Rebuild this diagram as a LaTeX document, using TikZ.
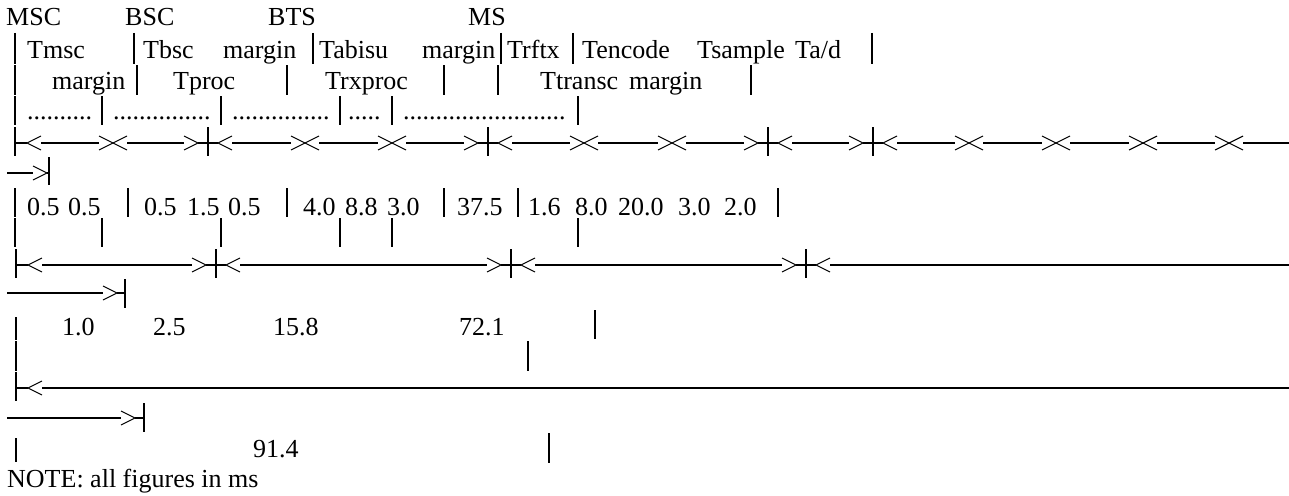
\documentclass[tikz,border=0pt]{standalone}
\usepackage{fontspec}
\setmainfont{Liberation Serif}
\usetikzlibrary{positioning}

\begin{document}
\begin{tikzpicture}[
    x=1pt, y=-1pt,
    lbl/.style={anchor=base west, inner sep=0pt, font=\fontsize{26}{30}\selectfont},
    bar/.style={line width=2.2pt},
    rule/.style={line width=2pt},
    chev/.style={line width=1.1pt},
    junction/.pic={
        \draw[chev] (-14,-7) -- (0,0) -- (-14,7);
        \draw[chev] (14,-7) -- (0,0) -- (14,7);},
    crossing/.pic={
        \draw[chev] (-24,-7) -- (-10,0) -- (-24,7);
        \draw[chev] (24,-7) -- (10,0) -- (24,7);
        \draw[rule] (-10,0) -- (10,0);
        \draw[bar] (0,-16) -- (0,13);},
    startcap/.pic={
        \draw[bar] (0,-16) -- (0,13);
        \draw[rule] (0,0) -- (12,0);
        \draw[chev] (26,-7) -- (12,0) -- (26,7);}
]
\useasboundingbox (0,0) rectangle (1289,495);

% Network elements
\node[lbl] (msc) at (6,26) {MSC};
\node[lbl] (bsc) at (125,26) {BSC};
\node[lbl] (bts) at (268,26) {BTS};
\node[lbl] (ms) at (468,26) {MS};

% Delay components, first line
\node[lbl] (tmsc) at (27,59) {Tmsc};
\node[lbl] (tbsc) at (143,59) {Tbsc};
\node[lbl] (margin_bsc) at (223,59) {margin};
\node[lbl] (tabisu) at (319,59) {Tabisu};
\node[lbl] (margin_bts) at (422,59) {margin};
\node[lbl] (trftx) at (507,59) {Trftx};
\node[lbl] (tencode) at (582,59) {Tencode};
\node[lbl] (tsample) at (697,59) {Tsample};
\node[lbl] (tad) at (795,59) {Ta/d};
\foreach \x in {15,134,313,501,573,872}
    \draw[bar] (\x,33) -- (\x,64);

% Delay components, second line
\node[lbl] (margin_msc) at (52,89) {margin};
\node[lbl] (tproc) at (173,89) {Tproc};
\node[lbl] (trxproc) at (325,89) {Trxproc};
\node[lbl] (ttransc) at (540,89) {Ttransc};
\node[lbl] (margin_ms) at (629,89) {margin};
\foreach \x in {15,137,287,444,498,751}
    \draw[bar] (\x,65) -- (\x,95);

% Dotted fillers
\node[lbl] (dots_msc) at (27,119) {..........};
\node[lbl] (dots_bsc) at (113,119) {...............};
\node[lbl] (dots_bts) at (232,119) {...............};
\node[lbl] (dots_air) at (348,119) {.....};
\node[lbl] (dots_ms) at (403,119) {.........................};
\foreach \x in {15,102,221,340,392,578}
    \draw[bar] (\x,96) -- (\x,125);

% Component span line
\pic at (15,143) {startcap};
\foreach \m in {113,305,392,584,672,969,1056,1143,1229}
    \pic at (\m,143) {junction};
\foreach \c in {208,488,768,873}
    \pic at (\c,143) {crossing};
\foreach \a/\b in {41/99,127/184,232/291,319/378,406/464,512/570,598/658,686/744,
                   792/849,897/955,983/1042,1070/1129,1157/1215,1243/1289}
    \draw[rule] (\a,143) -- (\b,143);
\draw[rule] (7,173) -- (33,173);
\draw[chev] (33,166) -- (47,173) -- (33,180);
\draw[rule] (47,173) -- (49,173);
\draw[bar] (49,157) -- (49,185);

% Component values
\node[lbl] (v_tmsc) at (27,215) {0.5};
\node[lbl] (v_mmsc) at (68,215) {0.5};
\node[lbl] (v_tbsc) at (144,215) {0.5};
\node[lbl] (v_tproc) at (187,215) {1.5};
\node[lbl] (v_mbsc) at (228,215) {0.5};
\node[lbl] (v_tabisu) at (303,215) {4.0};
\node[lbl] (v_trxproc) at (345,215) {8.8};
\node[lbl] (v_mbts) at (387,215) {3.0};
\node[lbl] (v_trftx) at (457,215) {37.5};
\node[lbl] (v_tencode) at (528,215) {1.6};
\node[lbl] (v_ttransc) at (575,215) {8.0};
\node[lbl] (v_tsample) at (618,215) {20.0};
\node[lbl] (v_mms) at (678,215) {3.0};
\node[lbl] (v_tad) at (724,215) {2.0};
\foreach \x in {15,128,287,444,518,778}
    \draw[bar] (\x,188) -- (\x,217);
\foreach \x in {15,102,221,340,392,578}
    \draw[bar] (\x,218) -- (\x,247);

% Element span line
\pic at (16,265) {startcap};
\foreach \c in {216,511,806}
    \pic at (\c,265) {crossing};
\foreach \a/\b in {42/192,240/487,535/782,830/1289}
    \draw[rule] (\a,265) -- (\b,265);
\draw[rule] (7,293) -- (103,293);
\draw[chev] (103,286) -- (117,293) -- (103,300);
\draw[rule] (117,293) -- (125,293);
\draw[bar] (125,279) -- (125,308);

% Element totals
\node[lbl] (sum_msc) at (62,335) {1.0};
\node[lbl] (sum_bsc) at (153,335) {2.5};
\node[lbl] (sum_bts) at (273,335) {15.8};
\node[lbl] (sum_ms) at (459,335) {72.1};
\draw[bar] (16,317) -- (16,340);
\draw[bar] (595,310) -- (595,339);
\draw[bar] (16,341) -- (16,371);
\draw[bar] (528,341) -- (528,371);

% End to end span line
\pic at (16,388) {startcap};
\draw[rule] (42,388) -- (1289,388);
\draw[rule] (7,418) -- (121,418);
\draw[chev] (121,411) -- (135,418) -- (121,425);
\draw[rule] (135,418) -- (144,418);
\draw[bar] (144,403) -- (144,432);

% Total
\node[lbl] (total) at (253,457) {91.4};
\draw[bar] (16,438) -- (16,462);
\draw[bar] (549,433) -- (549,463);

\node[lbl] (note) at (7,487) {NOTE: all figures in ms};

\end{tikzpicture}
\end{document}
